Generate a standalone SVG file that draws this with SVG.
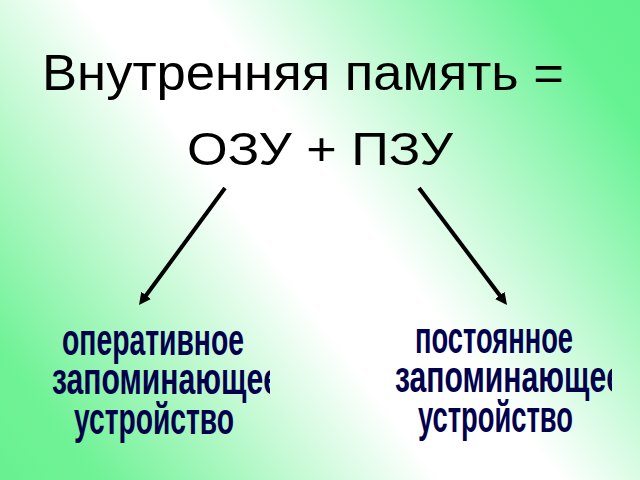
<svg xmlns="http://www.w3.org/2000/svg" width="640" height="480" viewBox="0 0 640 480">
  <defs>
    <linearGradient id="bg" gradientUnits="userSpaceOnUse" x1="640" y1="0" x2="0" y2="480">
      <stop offset="0" stop-color="#5ff08c"/>
      <stop offset="0.1" stop-color="#66f293"/>
      <stop offset="0.44" stop-color="#ffffff"/>
      <stop offset="0.56" stop-color="#ffffff"/>
      <stop offset="0.9" stop-color="#70f296"/>
      <stop offset="1" stop-color="#68f190"/>
    </linearGradient>
    <marker id="arrow" viewBox="0 0 10 10" refX="2" refY="5" markerWidth="3" markerHeight="3" orient="auto" markerUnits="strokeWidth">
      <path d="M0,0 L10,5 L0,10 z" fill="#000"/>
    </marker>
    <clipPath id="clipL"><rect x="0" y="0" width="270" height="480"/></clipPath>
    <clipPath id="clipR"><rect x="0" y="0" width="612" height="480"/></clipPath>
  </defs>
  <style>
    .title { font-family: "Liberation Sans", Arial, sans-serif; fill: #000; }
    .label { font-family: "Liberation Sans", Arial, sans-serif; font-weight: bold; font-size: 44px; fill: #00004d; }
    .conn { stroke: #000; stroke-width: 4; fill: none; marker-end: url(#arrow); }
  </style>
  <rect x="0" y="0" width="640" height="480" fill="url(#bg)"/>

  <g id="title">
    <text class="title" x="42" y="90" font-size="50" textLength="522" lengthAdjust="spacingAndGlyphs">Внутренняя память =</text>
  </g>
  <g id="formula">
    <text class="title" x="187" y="165" font-size="46" textLength="266" lengthAdjust="spacingAndGlyphs">ОЗУ + ПЗУ</text>
  </g>

  <g id="connectors">
    <path class="conn" d="M225,188 L144.7,297.3"/>
    <path class="conn" d="M419,188 L501.2,297.3"/>
  </g>

  <g id="ram" clip-path="url(#clipL)">
    <text class="label" x="62" y="355" textLength="182" lengthAdjust="spacingAndGlyphs">оперативное</text>
    <text class="label" x="52" y="394" textLength="228" lengthAdjust="spacingAndGlyphs">запоминающее</text>
    <text class="label" x="74" y="434" textLength="160" lengthAdjust="spacingAndGlyphs">устройство</text>
  </g>
  <g id="rom" clip-path="url(#clipR)">
    <text class="label" x="415" y="353" textLength="158" lengthAdjust="spacingAndGlyphs">постоянное</text>
    <text class="label" x="395" y="392" textLength="228" lengthAdjust="spacingAndGlyphs">запоминающее</text>
    <text class="label" x="418" y="432" textLength="155" lengthAdjust="spacingAndGlyphs">устройство</text>
  </g>
</svg>
